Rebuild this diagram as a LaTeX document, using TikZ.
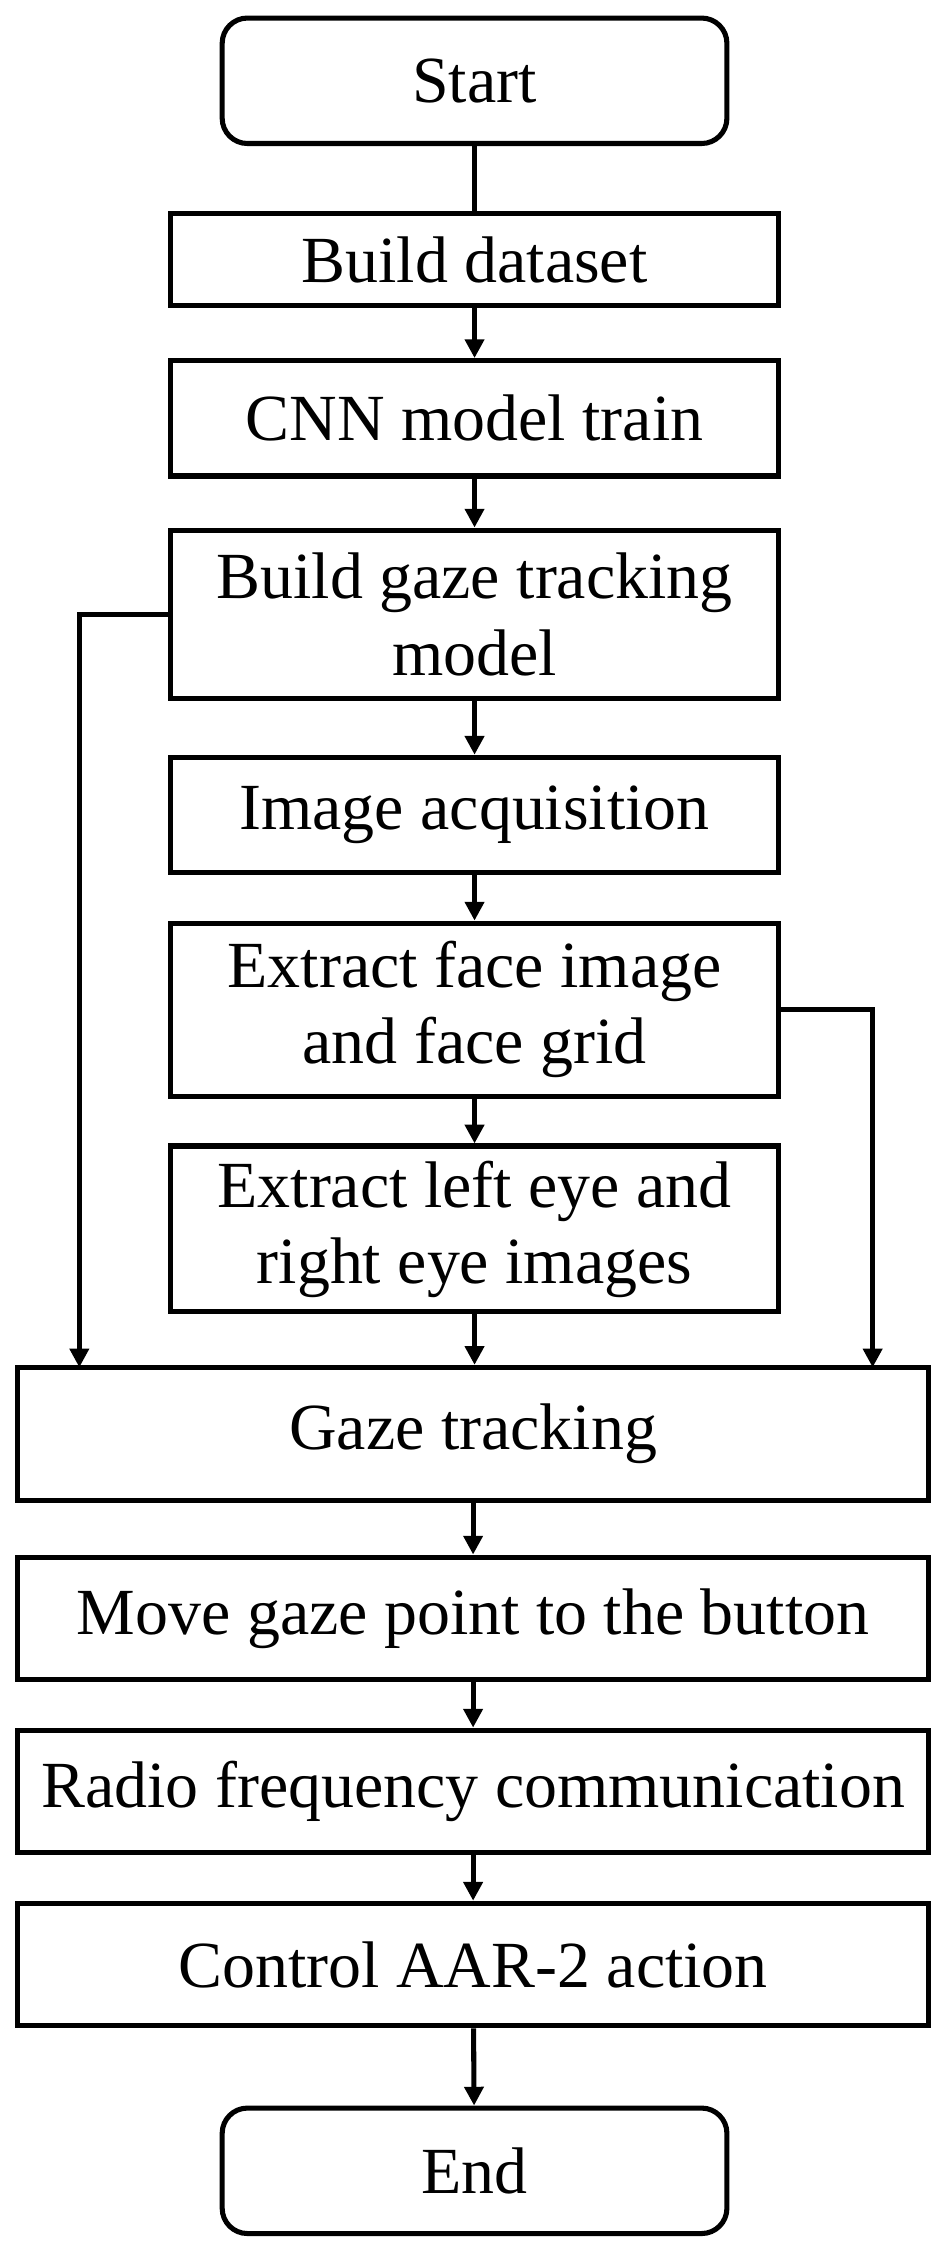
\documentclass[tikz,border=0pt]{standalone}
\usepackage{fontspec}
\setmainfont{Liberation Serif}
\usetikzlibrary{arrows.meta, positioning, calc}

\begin{document}
\begin{tikzpicture}[
  x=0.02cm, y=-0.02cm,
  every node/.style = {font=\fontsize{26}{30}\selectfont},
  block/.style = {draw, line width=2pt, align=center, inner sep=0pt},
  narrow/.style = {block, minimum width=8.44cm},
  wide/.style = {block, minimum width=12.64cm},
  term/.style = {block, rounded corners=0.35cm, minimum width=7cm, minimum height=1.74cm},
  arrow/.style = {line width=2pt, -{Triangle[length=2.6mm, width=2.6mm]}}
]
  \useasboundingbox (0,0) rectangle (656,1562);

  % ======================================================
  % upper column
  % ======================================================
  \node[term] (start) at (329,56) {Start};
  \node[narrow, minimum height=1.28cm] (dataset) at (329,180) {Build dataset};
  \node[narrow, minimum height=1.6cm] (train) at (329,290) {CNN model train};
  \node[narrow, minimum height=2.34cm] (model) at (329,426) {Build gaze tracking\\model};
  \node[narrow, minimum height=1.6cm] (acquire) at (329,565) {Image acquisition};
  \node[narrow, minimum height=2.4cm] (face) at (329,700) {Extract face image\\and face grid};
  \node[narrow, minimum height=2.3cm] (eyes) at (329,852) {Extract left eye and\\right eye images};

  % ======================================================
  % lower column
  % ======================================================
  \node[wide, minimum height=1.84cm] (gaze) at (328,994) {Gaze tracking};
  \node[wide, minimum height=1.7cm] (move) at (328,1122) {Move gaze point to the button};
  \node[wide, minimum height=1.7cm] (radio) at (328,1242) {Radio frequency communication};
  \node[wide, minimum height=1.7cm] (control) at (328,1362) {Control AAR-2 action};
  \node[term] (stop) at (329,1505) {End};

  % main flow
  \draw[line width=2pt] (start) -- (dataset);
  \draw[arrow] (dataset) -- (train);
  \draw[arrow] (train) -- (model);
  \draw[arrow] (model) -- (acquire);
  \draw[arrow] (acquire) -- (face);
  \draw[arrow] (face) -- (eyes);
  \draw[arrow] (eyes) -- (eyes.south |- gaze.north);
  \draw[arrow] (gaze) -- (move);
  \draw[arrow] (move) -- (radio);
  \draw[arrow] (radio) -- (control);
  \draw[arrow] (control) -- (stop);

  % side branches
  \coordinate (leftin) at (55,948);
  \coordinate (rightin) at (605,948);
  \draw[arrow] (model.west) -| (leftin);
  \draw[arrow] (face.east) -| (rightin);

\end{tikzpicture}
\end{document}
